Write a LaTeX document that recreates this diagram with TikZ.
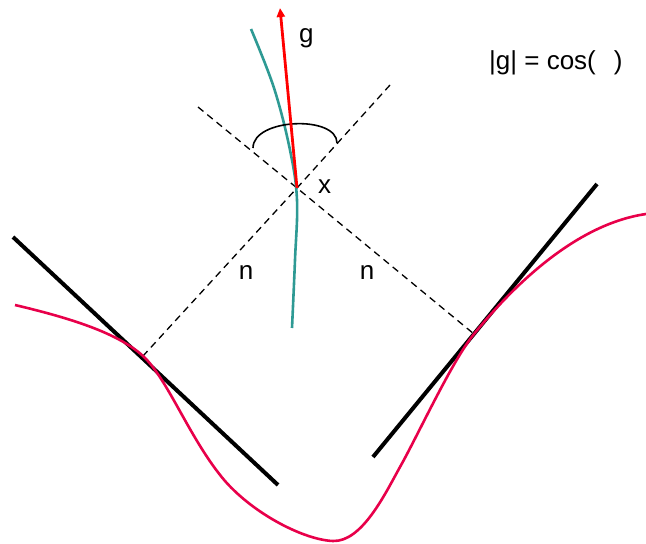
\documentclass[tikz,border=0pt]{standalone}
\usepackage{fontspec}
\setmainfont{Liberation Sans}
\usetikzlibrary{arrows.meta}
\definecolor{crim}{HTML}{E8004A}
\definecolor{tealc}{HTML}{2E9A94}
\tikzset{
  tangent/.style={line width=4pt, black},
  normal/.style={line width=1.3pt, dash pattern=on 7pt off 5pt},
  lbl/.style={font=\fontsize{26}{30}\selectfont, inner sep=0pt},
}
\begin{document}
\begin{tikzpicture}[x=1pt,y=-1pt]
\useasboundingbox (0,0) rectangle (646,544);
% key points
\coordinate (X) at (297,188);
\coordinate (TL) at (143,356);
\coordinate (TR) at (474,334);
\coordinate (UL) at (198,107);
\coordinate (UR) at (390,85);
% dashed normals
\draw[normal] (UR) -- (X) -- (TL);
\draw[normal] (UL) -- (X) -- (TR);
% tangent lines
\coordinate (L1) at (13,237);
\coordinate (L2) at (278,485);
\coordinate (R1) at (373,457);
\coordinate (R2) at (597,184);
\draw[tangent] (L1) -- (L2);
\draw[tangent] (R1) -- (R2);
% crimson curve
\draw[crim, line width=2.6pt] (15,305) .. controls (70,318) and (118,333) .. (TL)
  .. controls (168,379) and (190,440) .. (225,481)
  .. controls (255,515) and (305,540) .. (333,541)
  .. controls (362,542) and (385,494) .. (400,467)
  .. controls (418,435) and (452,361) .. (TR)
  .. controls (505,296) and (570,225) .. (646,214);
% teal curve
\draw[tealc, line width=2.6pt] plot[smooth, tension=0.6] coordinates {(251,29) (274,88) (290,150) (297,200) (295,260) (292,328)};
% angle arc
\coordinate (A1) at (253,148);
\coordinate (A2) at (337,143);
\draw[line width=1.6pt] (A1) .. controls (253,118) and (337,115) .. (A2);
% gradient arrow
\coordinate (G) at (280,8);
\draw[red, line width=2.8pt, -{Triangle[length=9pt,width=8pt]}] (X) -- (G);
% labels
\node[lbl, anchor=west] (g) at (299,38) {g};
\node[lbl, anchor=west] (x) at (318,187) {x};
\node[lbl] (n1) at (246,273) {n};
\node[lbl] (n2) at (367,273) {n};
\node[lbl, anchor=west] (eq) at (489,63) {|g| = cos(\hspace{18pt})};
\end{tikzpicture}
\end{document}
